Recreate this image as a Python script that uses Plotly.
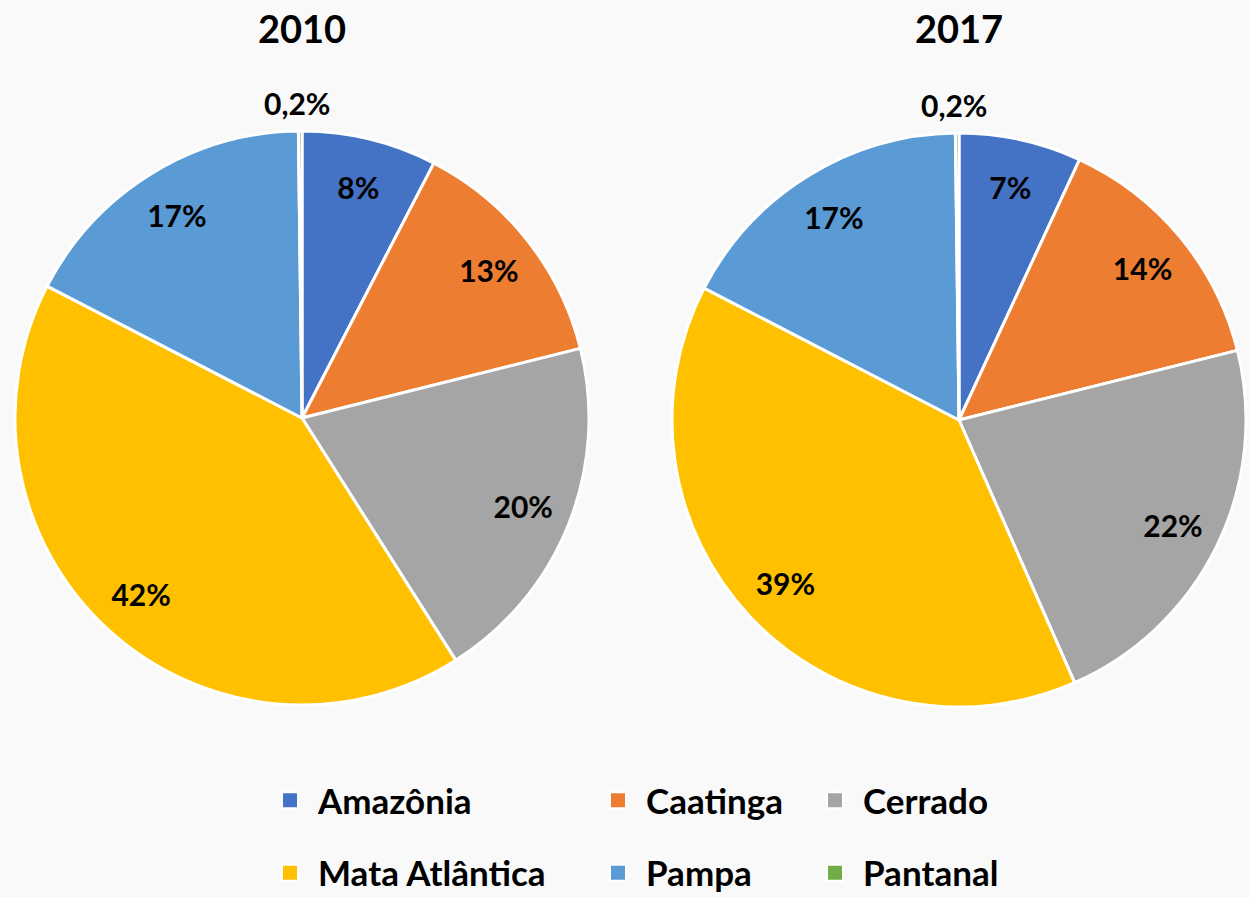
import plotly.graph_objects as go

# ---- data ----
labels = ["Amazônia", "Caatinga", "Cerrado", "Mata Atlântica", "Pampa", "Pantanal"]
colors = ["#4472C4", "#ED7D31", "#A5A5A5", "#FFC000", "#5B9BD5", "#70AD47"]
years = ["2010", "2017"]
values_2010 = [7.6, 13.5, 19.9, 41.6, 17.2, 0.2]
values_2017 = [6.9, 14.2, 22.3, 39.2, 17.2, 0.2]
text_2010 = ["8%", "13%", "20%", "42%", "17%", "0,2%"]
text_2017 = ["7%", "14%", "22%", "39%", "17%", "0,2%"]

# ---- layout constants (pixels) ----
W, H = 1249, 897
pie_geom = [(302, 418, 287), (959, 420, 287)]  # center x, center y (from top), radius
FONT = "Lato"
label_font = dict(family=FONT, size=30, color="black", weight="bold")

fig = go.Figure()

for year, vals, txt, (cx, cy, r) in zip(years, [values_2010, values_2017],
                                        [text_2010, text_2017], pie_geom):
    dom = dict(x=[(cx - r) / W, (cx + r) / W],
               y=[1 - (cy + r) / H, 1 - (cy - r) / H])
    # the pie itself
    fig.add_trace(go.Pie(
        labels=labels, values=vals, domain=dom, sort=False,
        direction="clockwise", rotation=0,
        marker=dict(colors=colors, line=dict(color="white", width=3)),
        textinfo="none", showlegend=False, name=year,
        hovertemplate="%{label}: %{value}%<extra>" + year + "</extra>",
    ))
    # transparent ring carrying the inside data labels at ~0.83 R
    fig.add_trace(go.Pie(
        labels=labels, values=vals, domain=dom, sort=False,
        direction="clockwise", rotation=0, hole=0.66,
        marker=dict(colors=["rgba(0,0,0,0)"] * len(labels), line=dict(width=0)),
        text=txt[:-1] + [""], textinfo="text", textposition="inside",
        insidetextorientation="horizontal", textfont=label_font,
        showlegend=False, hoverinfo="skip",
    ))
    # label of the tiny Pantanal slice, above the pie top
    fig.add_annotation(
        x=(cx - 5) / W, y=1 - (cy - r - 28) / H, xref="paper", yref="paper",
        xanchor="center", yanchor="middle", showarrow=False,
        text=txt[-1], font=label_font,
    )
    # year title
    fig.add_annotation(
        x=cx / W, y=1 - 28 / H, xref="paper", yref="paper",
        xanchor="center", yanchor="middle", showarrow=False,
        text=year, font=dict(family=FONT, size=38, color="black", weight="bold"),
    )

# ---- legend (three columns, two rows) ----
columns = [[0, 3], [1, 4], [2, 5]]
col_x = [290, 618, 835]
legend_names = ["legend", "legend2", "legend3"]
for lname, idxs in zip(legend_names, columns):
    for i in idxs:
        fig.add_trace(go.Scatter(
            x=[None], y=[None], mode="markers", name=labels[i],
            marker=dict(symbol="square", size=16, color=colors[i],
                        line=dict(color="white", width=2)),
            legend=lname, legendgroup=labels[i], showlegend=True,
            hoverinfo="skip",
        ))

leg_font = dict(family=FONT, size=35, color="black", weight="bold")
legend_layout = {}
for lname, x in zip(legend_names, col_x):
    legend_layout[lname] = dict(
        orientation="v", x=(x - 28) / W, xanchor="left",
        y=1 - 771 / H, yanchor="top", font=leg_font, itemwidth=46,
        tracegroupgap=24, bgcolor="rgba(0,0,0,0)", borderwidth=0,
    )

fig.update_layout(
    width=W, height=H,
    margin=dict(l=0, r=0, t=0, b=0, pad=0, autoexpand=False),
    paper_bgcolor="#f9f9f9", plot_bgcolor="rgba(0,0,0,0)",
    xaxis=dict(visible=False), yaxis=dict(visible=False),
    **legend_layout,
)

fig.write_html("out.html",
               config={"displayModeBar": False},
               post_script="document.body.style.margin='0';"
                           "document.body.style.background='#f9f9f9';")
